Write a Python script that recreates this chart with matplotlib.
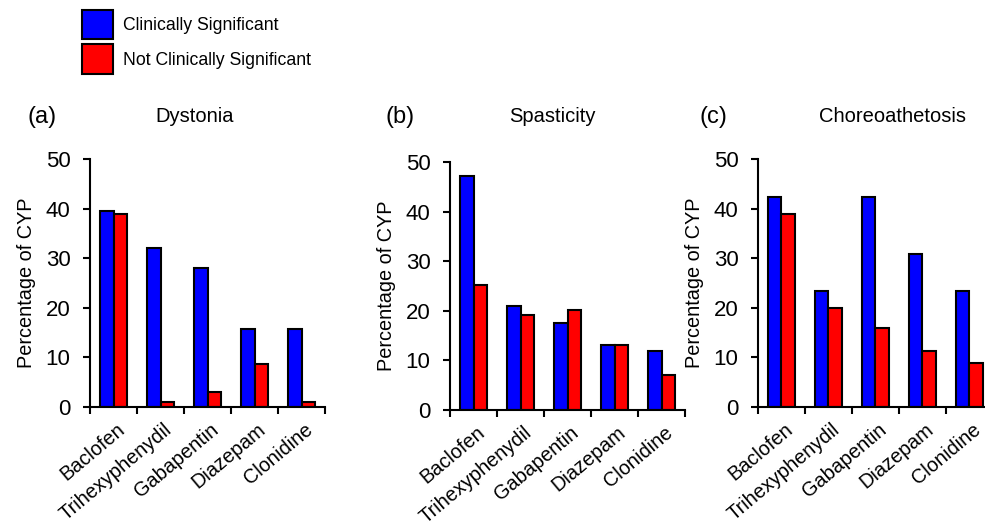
import numpy as np
import matplotlib.pyplot as plt

plt.rcParams['font.family'] = ['Liberation Sans', 'DejaVu Sans']

drugs = ['Baclofen', 'Trihexyphenydil', 'Gabapentin', 'Diazepam', 'Clonidine']
panel_titles = ['Dystonia', 'Spasticity', 'Choreoathetosis']
panel_tags = ['(a)', '(b)', '(c)']

dystonia_sig = [39.5, 32.0, 28.0, 15.8, 15.8]
dystonia_not = [39.0, 1.0, 3.0, 8.6, 1.0]
spasticity_sig = [47.2, 21.0, 17.5, 13.2, 11.9]
spasticity_not = [25.3, 19.1, 20.2, 13.2, 7.0]
choreo_sig = [42.4, 23.3, 42.4, 30.8, 23.3]
choreo_not = [39.0, 20.0, 16.0, 11.3, 8.8]

sig_data = [dystonia_sig, spasticity_sig, choreo_sig]
not_data = [dystonia_not, spasticity_not, choreo_not]

fig = plt.figure(figsize=(9.85, 5.27), dpi=100)

# axes boxes in figure fractions (left, bottom, width, height)
boxes = [(0.0914, 0.2277, 0.2386, 0.4706),
         (0.4569, 0.2220, 0.2386, 0.4706),
         (0.7695, 0.2277, 0.2386, 0.4706)]
tag_x = [0.043, 0.406, 0.724]
title_x = [0.198, 0.561, 0.906]

bw = 0.29
x = np.arange(len(drugs))
for i in range(3):
    ax = fig.add_axes(boxes[i])
    ax.bar(x - bw / 2, sig_data[i], width=bw, color='#0000ff',
           edgecolor='black', linewidth=1.5, label='Clinically Significant')
    ax.bar(x + bw / 2, not_data[i], width=bw, color='#ff0000',
           edgecolor='black', linewidth=1.5, label='Not Clinically Significant')
    ax.set_xlim(-0.5, len(drugs) - 0.5)
    ax.set_ylim(0, 50)
    ax.set_yticks([0, 10, 20, 30, 40, 50])
    ax.set_xticks(x + 0.05)
    ax.set_xticklabels(drugs, rotation=40, ha='right', rotation_mode='anchor')
    ax.set_xticks(np.arange(len(drugs) + 1) - 0.5, minor=True)
    ax.tick_params(axis='x', which='major', length=0, pad=9, labelsize=14.3)
    ax.tick_params(axis='x', which='minor', length=5, width=1.5, direction='out')
    ax.tick_params(axis='y', length=5, width=1.5, direction='out', labelsize=16, pad=9)
    for s in ['top', 'right']:
        ax.spines[s].set_visible(False)
    for s in ['left', 'bottom']:
        ax.spines[s].set_linewidth(1.5)
    ax.set_ylabel('Percentage of CYP', fontsize=14.3, labelpad=7)
    fig.text(tag_x[i], 0.778, panel_tags[i], fontsize=17, ha='center', va='center')
    fig.text(title_x[i], 0.778, panel_titles[i], fontsize=14.5, ha='center', va='center')

handles, labels = ax.get_legend_handles_labels()
fig.legend(handles, labels, loc='upper left', bbox_to_anchor=(0.067, 1.012),
           frameon=False, fontsize=12.7, handlelength=1.75, handleheight=2.2,
           labelspacing=0.3, handletextpad=0.6)

fig.savefig('out.png', dpi=100)
